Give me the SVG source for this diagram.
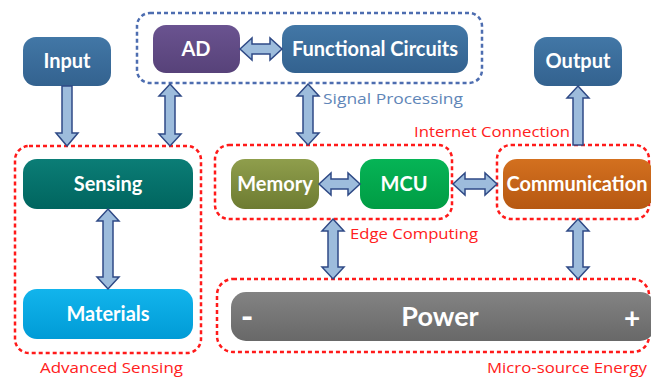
<svg xmlns="http://www.w3.org/2000/svg" width="651" height="378" viewBox="0 0 651 378">
<defs>
<linearGradient id="gBlue" x1="0" y1="0" x2="0" y2="1"><stop offset="0" stop-color="#4277a6"/><stop offset="1" stop-color="#33628f"/></linearGradient>
<linearGradient id="gPurple" x1="0" y1="0" x2="0" y2="1"><stop offset="0" stop-color="#6a5390"/><stop offset="1" stop-color="#574279"/></linearGradient>
<linearGradient id="gTeal" x1="0" y1="0" x2="0" y2="1"><stop offset="0" stop-color="#0b7d76"/><stop offset="1" stop-color="#00655f"/></linearGradient>
<linearGradient id="gCyan" x1="0" y1="0" x2="0" y2="1"><stop offset="0" stop-color="#12b4ec"/><stop offset="1" stop-color="#009bd6"/></linearGradient>
<linearGradient id="gOlive" x1="0" y1="0" x2="0" y2="1"><stop offset="0" stop-color="#8f9e4c"/><stop offset="1" stop-color="#6d7b31"/></linearGradient>
<linearGradient id="gGreen" x1="0" y1="0" x2="0" y2="1"><stop offset="0" stop-color="#06b456"/><stop offset="1" stop-color="#009c44"/></linearGradient>
<linearGradient id="gOrange" x1="0" y1="0" x2="0" y2="1"><stop offset="0" stop-color="#d3701f"/><stop offset="1" stop-color="#b65812"/></linearGradient>
<linearGradient id="gGray" x1="0" y1="0" x2="0" y2="1"><stop offset="0" stop-color="#838383"/><stop offset="1" stop-color="#686868"/></linearGradient>
</defs>
<style>
.node text{font-family:Lato,"Liberation Sans",sans-serif;font-weight:bold;fill:#fff;text-anchor:middle;font-size:20px}
.grpR{fill:none;stroke:#ff1a1a;stroke-width:2.5;stroke-dasharray:4 3}
.grpB{fill:none;stroke:#4d6db0;stroke-width:2.5;stroke-dasharray:4 3}
.lbl{font-family:"Open Sans","DejaVu Sans",sans-serif;font-size:15px}
.red{fill:#ff2020}
.sig{fill:#5f86b8}
.arr polygon{fill:#9dbcdc;stroke:#2f4a86;stroke-width:1.5;stroke-linejoin:miter}
</style>
<g id="groups">
<rect class="grpB" x="137" y="13" width="345" height="70" rx="13"/>
<rect class="grpR" x="15" y="146" width="186" height="207" rx="14"/>
<rect class="grpR" x="215" y="145" width="237" height="74" rx="14"/>
<rect class="grpR" x="497" y="145" width="152" height="74" rx="14"/>
<rect class="grpR" x="217" y="279" width="432" height="73" rx="16"/>
</g>
<g id="labels">
<text class="lbl sig" x="323" y="104" textLength="140" lengthAdjust="spacingAndGlyphs">Signal Processing</text>
<text class="lbl red" x="414" y="137" textLength="156" lengthAdjust="spacingAndGlyphs">Internet Connection</text>
<text class="lbl red" x="350" y="239" textLength="128" lengthAdjust="spacingAndGlyphs">Edge Computing</text>
<text class="lbl red" x="40" y="373" textLength="143" lengthAdjust="spacingAndGlyphs">Advanced Sensing</text>
<text class="lbl red" x="487" y="373" textLength="160" lengthAdjust="spacingAndGlyphs">Micro-source Energy</text>
</g>
<g id="input" class="node"><rect x="23" y="37" width="88" height="49" rx="13" fill="url(#gBlue)"/><text x="67" y="68">Input</text></g>
<g id="ad" class="node"><rect x="153" y="25" width="87" height="48" rx="13" fill="url(#gPurple)"/><text x="196" y="56">AD</text></g>
<g id="functional" class="node"><rect x="282" y="25" width="186" height="48" rx="13" fill="url(#gBlue)"/><text x="375" y="56">Functional Circuits</text></g>
<g id="output" class="node"><rect x="534" y="37" width="88" height="49" rx="13" fill="url(#gBlue)"/><text x="578" y="68">Output</text></g>
<g id="sensing" class="node"><rect x="23" y="159" width="170" height="50" rx="14" fill="url(#gTeal)"/><text x="108" y="191">Sensing</text></g>
<g id="materials" class="node"><rect x="23" y="289" width="170" height="50" rx="14" fill="url(#gCyan)"/><text x="108" y="321">Materials</text></g>
<g id="memory" class="node"><rect x="231" y="159" width="88" height="50" rx="14" fill="url(#gOlive)"/><text x="275" y="191">Memory</text></g>
<g id="mcu" class="node"><rect x="360" y="159" width="89" height="50" rx="14" fill="url(#gGreen)"/><text x="404" y="191">MCU</text></g>
<g id="communication" class="node"><rect x="503" y="159" width="150" height="50" rx="14" fill="url(#gOrange)"/><text x="577" y="191">Communication</text></g>
<g id="power" class="node"><rect x="231" y="292" width="424" height="49" rx="15" fill="url(#gGray)"/><text x="440" y="326" style="font-size:27px">Power</text><text x="247" y="329" style="font-size:34px">-</text><text x="632" y="328" style="font-size:28px">+</text></g>
<g id="connectors" class="arr">
<polygon points="62,86 72,86 72,133 78,133 67,146 56,133 62,133"/>
<polygon points="170,84 181,96 175,96 175,134 181,134 170,146 159,134 165,134 165,96 159,96"/>
<polygon points="308,84 319,96 313,96 313,133 319,133 308,145 297,133 303,133 303,96 297,96"/>
<polygon points="108,209 119,221 113,221 113,277 119,277 108,289 97,277 103,277 103,221 97,221"/>
<polygon points="333,219 344,231 338,231 338,267 344,267 333,279 322,267 328,267 328,231 322,231"/>
<polygon points="578,219 589,231 583,231 583,267 589,267 578,279 567,267 573,267 573,231 567,231"/>
<polygon points="578,86 589,98 583,98 583,145 573,145 573,98 567,98"/>
<polygon points="240,49 252,38 252,44 270,44 270,38 282,49 270,60 270,54 252,54 252,60"/>
<polygon points="319,184 331,173 331,179 348,179 348,173 360,184 348,195 348,189 331,189 331,195"/>
<polygon points="453,184 465,173 465,179 485,179 485,173 497,184 485,195 485,189 465,189 465,195"/>
</g>
</svg>
